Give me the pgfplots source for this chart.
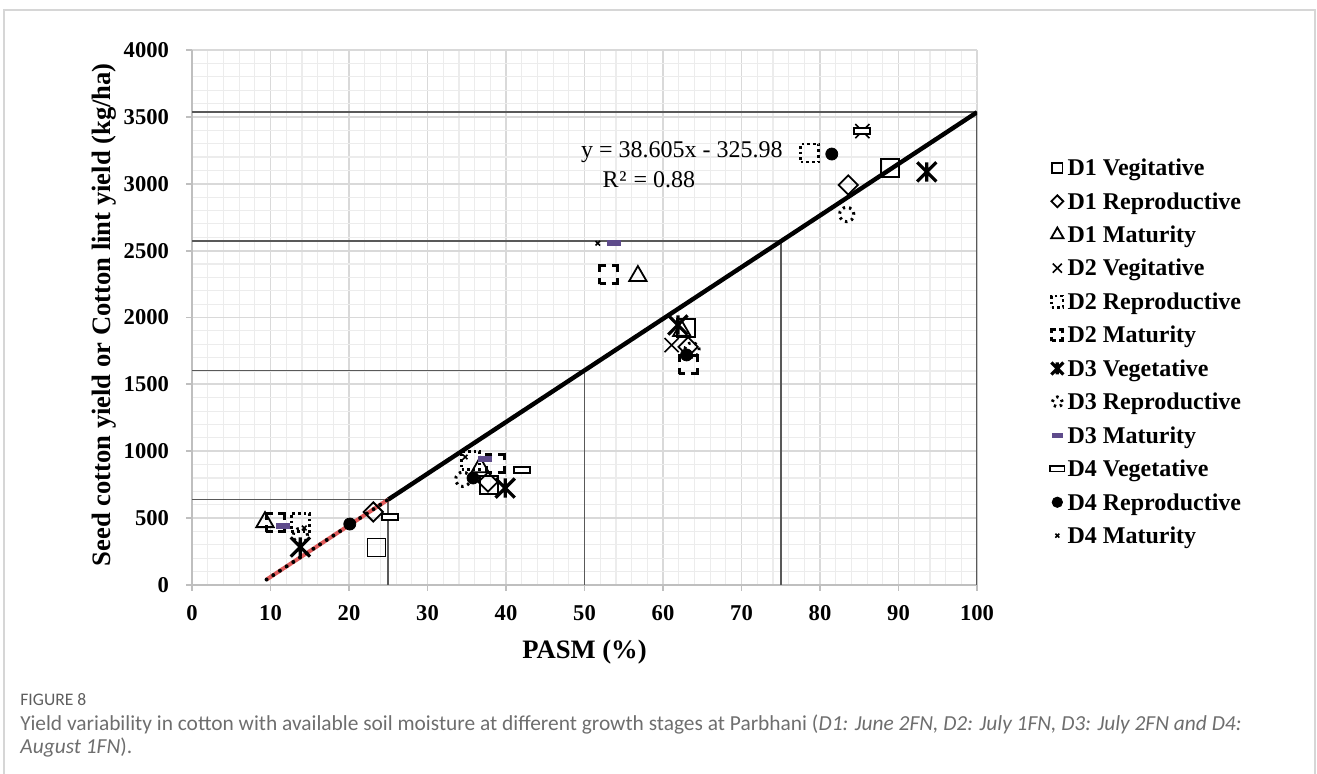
\documentclass[border=0pt]{standalone}
\usepackage{fontspec}
\setmainfont{Liberation Serif}
\newfontfamily\capfont{Carlito}
\usepackage{pgfplots}
\pgfplotsset{compat=1.18}

\definecolor{gridmaj}{HTML}{D9D9D9}
\definecolor{gridmin}{HTML}{ECECEC}
\definecolor{axisgray}{HTML}{BFBFBF}
\definecolor{refgray}{HTML}{595959}
\definecolor{trendred}{HTML}{E05C5C}
\definecolor{matpurple}{HTML}{5E4B8B}
\definecolor{capgray}{HTML}{6E6E6E}
\definecolor{framegray}{HTML}{D6D6D6}

% flat bar marker (D3/D4)
\pgfdeclareplotmark{hbar}{%
  \pgfpathrectangle{\pgfqpoint{-\pgfplotmarksize}{-0.38\pgfplotmarksize}}%
    {\pgfqpoint{2\pgfplotmarksize}{0.76\pgfplotmarksize}}%
  \pgfusepathqfillstroke}
% Excel style star: x with a vertical stroke
\pgfdeclareplotmark{xstar}{%
  \pgfpathmoveto{\pgfqpoint{-\pgfplotmarksize}{-\pgfplotmarksize}}%
  \pgfpathlineto{\pgfqpoint{\pgfplotmarksize}{\pgfplotmarksize}}%
  \pgfpathmoveto{\pgfqpoint{-\pgfplotmarksize}{\pgfplotmarksize}}%
  \pgfpathlineto{\pgfqpoint{\pgfplotmarksize}{-\pgfplotmarksize}}%
  \pgfpathmoveto{\pgfqpoint{0pt}{-\pgfplotmarksize}}%
  \pgfpathlineto{\pgfqpoint{0pt}{\pgfplotmarksize}}%
  \pgfusepathqstroke}

\pgfplotsset{
  mD1veg/.style={only marks, mark=square, mark size=#1, mark options={black, line width=0.9pt, solid}},
  mD1rep/.style={only marks, mark=square, mark size=#1, mark options={black, line width=0.9pt, rotate=45, solid}},
  mD1mat/.style={only marks, mark=triangle, mark size=#1, mark options={black, line width=0.9pt, solid}},
  mD2veg/.style={only marks, mark=x, mark size=#1, mark options={black, line width=0.8pt, solid}},
  mD2rep/.style={only marks, mark=square, mark size=#1, mark options={black, line width=1.4pt, dash pattern=on 1.3pt off 1.5pt}},
  mD2mat/.style={only marks, mark=square, mark size=#1, mark options={black, line width=1.5pt, dash pattern=on 0.7*#1 off 0.6*#1 on 0.7*#1 off 0pt}},
  mD3veg/.style={only marks, mark=xstar, mark size=#1, mark options={black, line width=1.6pt, solid}},
  mD3rep/.style={only marks, mark=o, mark size=#1, mark options={black, line width=1.5pt, dash pattern=on 1.2pt off 2pt}},
  mD3mat/.style={only marks, mark=hbar, mark size=#1, mark options={draw=matpurple, fill=matpurple, line width=0.5pt, solid}},
  mD4veg/.style={only marks, mark=hbar, mark size=#1, mark options={draw=black, fill=white, line width=0.9pt, solid}},
  mD4rep/.style={only marks, mark=*, mark size=#1, mark options={black, solid}},
  mD4mat/.style={only marks, mark=x, mark size=#1, mark options={black, line width=0.8pt, solid}},
  refline/.style={refgray, line width=0.9pt, forget plot},
}

\begin{document}
\begin{tikzpicture}
\path[use as bounding box] (0pt,0pt) rectangle (658.5pt,387pt);
\draw[framegray, line width=1pt] (2pt,0pt) -- (2pt,382pt) -- (657.5pt,382pt) -- (657.5pt,0pt);

\begin{axis}[
  at={(96pt,94.5pt)}, anchor=south west,
  scale only axis, width=392.5pt, height=267.5pt,
  xmin=0, xmax=100, ymin=0, ymax=4000,
  xtick={0,10,...,100}, ytick={0,500,...,4000},
  minor x tick num=4, minor y tick num=4,
  grid=both,
  major grid style={gridmaj, line width=0.9pt},
  minor grid style={gridmin, line width=0.6pt},
  axis x line*=bottom, axis y line*=left,
  axis line style={axisgray, line width=0.9pt, -},
  tick align=outside, major tick length=3pt, minor tick length=0pt,
  tick style={axisgray, line width=0.9pt},
  /pgf/number format/assume math mode=true,
  /pgf/number format/1000 sep={},
  ticklabel style={font=\bfseries\fontsize{11.3}{11.3}\selectfont},
  xticklabel style={yshift=-3.5pt},
  yticklabel style={xshift=-5pt},
  xlabel={PASM (\%)},
  ylabel={Seed cotton yield or Cotton lint yield (kg/ha)},
  label style={font=\bfseries\fontsize{13.3}{13.3}\selectfont},
  xlabel style={at={(axis description cs:0.5,-0.125)}, anchor=center},
  ylabel style={at={(axis description cs:-0.112,0.505)}, anchor=center},
  legend style={at={(axis description cs:1.085,0.807)}, anchor=north west,
    draw=none, fill=none, font=\bfseries\fontsize{12}{12}\selectfont,
    row sep=4.72pt, column sep=1.5pt,
    nodes={inner sep=0pt, text height=9pt, text depth=3pt}},
  legend cell align=left,
  legend image code/.code={\draw[#1] plot coordinates {(0pt,0.9pt)};},
]
% dropping lines to the trend line
\addplot[refline] coordinates {(0,639.1) (25,639.1) (25,0)};
\addplot[refline] coordinates {(0,1604.3) (50,1604.3) (50,0)};
\addplot[refline] coordinates {(0,2569.4) (75,2569.4) (75,0)};
\addplot[refline] coordinates {(0,3534.5) (100,3534.5) (100,0)};

% data
\addplot[mD1veg=4.5pt, forget plot] coordinates {(23.5,280) (37.8,750) (62.9,1920) (88.9,3120)};
\addplot[mD1rep=3.4pt, forget plot] coordinates {(23.1,546) (37.7,770) (63.2,1780) (83.6,2991)};
\addplot[mD1mat=5pt, forget plot] coordinates {(9.3,470) (36.7,880) (56.8,2310) (62.4,1900)};
\addplot[mD2veg=5pt, forget plot] coordinates {(61.1,1794) (85.4,3394)};
\addplot[mD2rep=4.5pt, forget plot] coordinates {(13.8,470) (35.5,930) (78.7,3230)};
\addplot[mD2mat=4.5pt, forget plot] coordinates {(10.6,465) (38.6,912) (53.1,2318) (63.2,1645)};
\addplot[mD3veg=4.8pt, forget plot] coordinates {(13.8,284) (39.9,725) (61.9,1944) (93.6,3088)};
\addplot[mD3rep=3.6pt, forget plot] coordinates {(13.8,370) (34.5,790) (63.7,1757) (83.4,2770)};
\addplot[mD3mat=3.3pt, forget plot] coordinates {(11.6,440) (37.3,942) (53.8,2555)};
\addplot[mD4veg=4pt, forget plot] coordinates {(25.2,508) (42,860) (85.4,3394)};
\addplot[mD4rep=3pt, forget plot] coordinates {(20.1,456) (35.8,800) (63,1720) (81.5,3222)};
\addplot[mD4mat=1.6pt, forget plot] coordinates {(14.3,426) (34.8,957) (51.7,2555)};

% linear trend and its backward part
\addplot[black, line width=2.2pt, forget plot] coordinates {(25,639.1) (100,3534.5)};
\addplot[trendred, line width=2pt, forget plot] coordinates {(9.5,40.8) (25,639.1)};
\addplot[black, line width=2pt, line cap=round, dash pattern=on 0pt off 4pt, forget plot] coordinates {(9.5,40.8) (25,639.1)};

\node[font=\fontsize{12}{12}\selectfont] at (axis cs:62.4,3237) {y = 38.605x - 325.98};
\node[font=\fontsize{12}{12}\selectfont] at (axis cs:58.2,3028) {R\kern0.5pt²\kern0.5pt{} = 0.88};

% legend images, smaller than the plotted marks
\addlegendimage{mD1veg=2.6pt}
\addlegendimage{mD1rep=2.1pt}
\addlegendimage{mD1mat=3.6pt}
\addlegendimage{mD2veg=3.2pt}
\addlegendimage{mD2rep=2.8pt}
\addlegendimage{mD2mat=2.8pt}
\addlegendimage{mD3veg=3pt}
\addlegendimage{mD3rep=2.5pt}
\addlegendimage{mD3mat=2.6pt}
\addlegendimage{mD4veg=3.6pt}
\addlegendimage{mD4rep=2.6pt}
\addlegendimage{mD4mat=1.4pt}
\legend{D1 Vegitative, D1 Reproductive, D1 Maturity, D2 Vegitative, D2 Reproductive, D2 Maturity,
  D3 Vegetative, D3 Reproductive, D3 Maturity, D4 Vegetative, D4 Reproductive, D4 Maturity}
\end{axis}

\node[anchor=base west, inner sep=0pt, text=capgray!85!black, font=\capfont\fontsize{8.8}{9}\selectfont] at (10pt,34pt) {FIGURE 8};
\node[anchor=base west, inner sep=0pt, text=capgray, font=\capfont\fontsize{10.7}{11}\selectfont] at (10pt,21.5pt)
  {Yield variability in cotton with available soil moisture at different growth stages at Parbhani (\textit{D1: June 2FN, D2: July 1FN, D3: July 2FN and D4:}};
\node[anchor=base west, inner sep=0pt, text=capgray, font=\capfont\fontsize{10.7}{11}\selectfont] at (10pt,10pt)
  {\textit{August 1FN}).};
\end{tikzpicture}
\end{document}
